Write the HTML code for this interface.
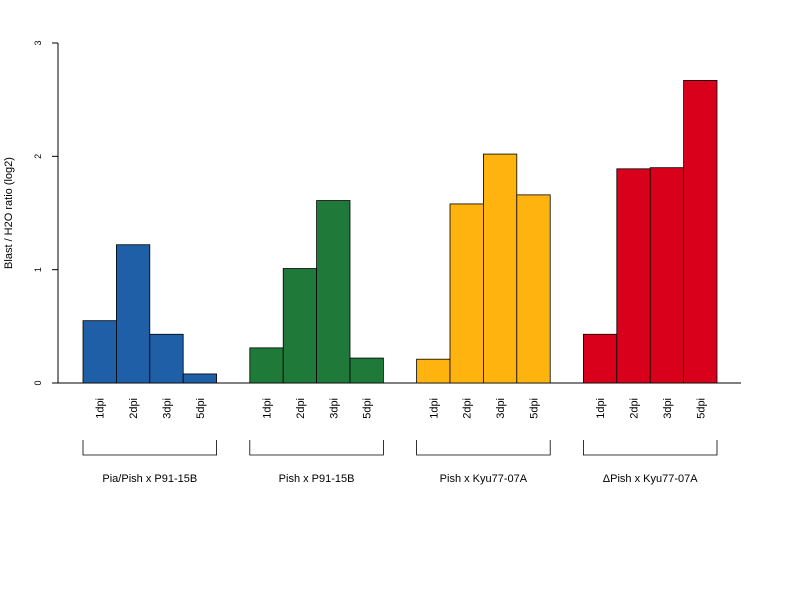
<!DOCTYPE html>
<html><head><meta charset="utf-8"><style>body{margin:0;background:#fff}svg{display:block;font-family:"Liberation Sans",sans-serif}</style></head>
<body>
<svg id="chart" width="800" height="600"></svg>
<script>
const groups=["Pia/Pish x P91-15B","Pish x P91-15B","Pish x Kyu77-07A","\u0394Pish x Kyu77-07A"];
const timepoints=["1dpi","2dpi","3dpi","5dpi"];
const valuesG1=[0.55,1.22,0.43,0.08];
const valuesG2=[0.31,1.01,1.61,0.22];
const valuesG3=[0.21,1.58,2.02,1.66];
const valuesG4=[0.43,1.89,1.90,2.67];
const yTicks=[0,1,2,3];
const colors=["#1f5fa8","#1f7a3a","#ffb30f","#d9001b"];
const series=[valuesG1,valuesG2,valuesG3,valuesG4];
const NS="http://www.w3.org/2000/svg";const svg=document.getElementById('chart');
function y(v){return 383-v*113.33;}
const bw=33.4;function gx(g){return 83+g*166.8;}
function mk(t,a,txt){const e=document.createElementNS(NS,t);for(const k in a)e.setAttribute(k,a[k]);if(txt!==undefined)e.textContent=txt;svg.appendChild(e);return e;}
let e=mk('line',{x1:58,x2:741,y1:383,y2:383,stroke:'#000'});


e=mk('line',{x1:58,x2:58,y1:y(0),y2:y(3),stroke:'#000'});


yTicks.forEach(t=>{
 e=mk('line',{x1:52,x2:58,y1:y(t),y2:y(t),stroke:'#000'});
 
 
 e=mk('text',{x:0,y:0,transform:`translate(41,${y(t)}) rotate(-90)`,'font-size':9,'text-anchor':'middle'},String(t));
 
 
});
e=mk('text',{transform:'translate(12,213) rotate(-90)','font-size':11,'text-anchor':'middle'},'Blast / H2O ratio (log2)');


series.forEach((vals,g)=>{
 vals.forEach((v,i)=>{
  const x=gx(g)+i*bw;
  e=mk('rect',{x:x,y:y(v),width:bw,height:y(0)-y(v),fill:colors[g],stroke:'#000','stroke-width':0.8});
  
  
  e=mk('text',{transform:`translate(${x+bw/2+4},${398}) rotate(-90)`,'font-size':11,'text-anchor':'end'},timepoints[i]);
  
  
 });
 const x0=gx(g),x1=gx(g)+4*bw;
 e=mk('path',{d:`M${x0},440V455H${x1}V440`,fill:'none',stroke:'#000','stroke-width':0.8});
 
 
 e=mk('text',{x:(x0+x1)/2,y:482,'font-size':11,'text-anchor':'middle'},groups[g]);
 
 
});
</script>
</body></html>
